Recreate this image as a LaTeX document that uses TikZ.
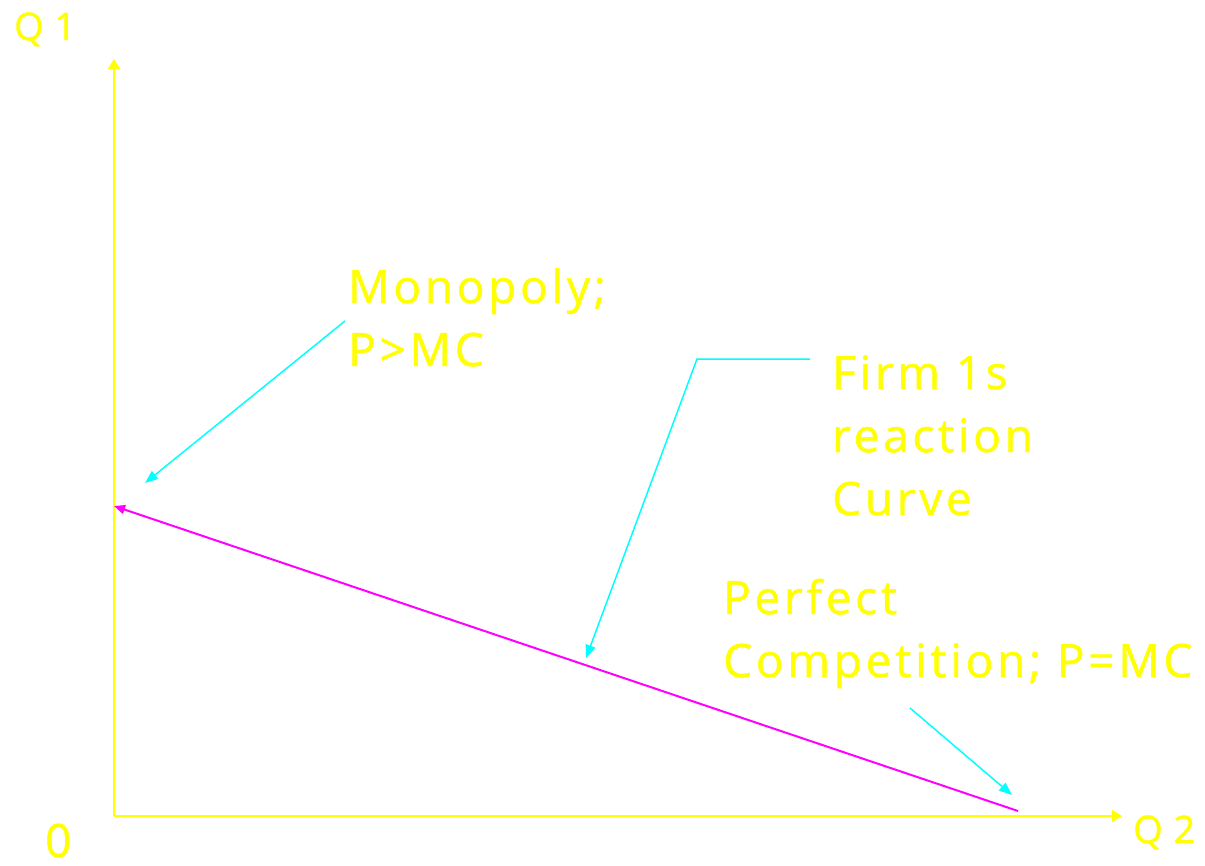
\documentclass[tikz,border=0pt]{standalone}
\usepackage{fontspec}
\usetikzlibrary{arrows.meta}
\newfontfamily\labelfont{Open Sans}[LetterSpace=8, FakeBold=1]
\newfontfamily\axisfont{Open Sans}[LetterSpace=28, FakeBold=1]
\definecolor{labelyellow}{RGB}{255,255,0}
\definecolor{pointcyan}{RGB}{0,255,255}
\definecolor{curvemagenta}{RGB}{255,0,255}

\begin{document}
\begin{tikzpicture}[x=1pt, y=-1pt,
  axis/.style={labelyellow, line width=2pt, -{Triangle[length=10pt, width=12pt]}},
  curve/.style={curvemagenta, line width=2pt, {Triangle[length=11pt, width=9pt]}-},
  pointer/.style={pointcyan, line width=1.5pt, -{Triangle[length=13pt, width=10pt]}},
  lbl/.style={text=labelyellow, font=\labelfont\fontsize{46}{63}\selectfont, inner sep=0pt, anchor=base west, align=left},
  zerolbl/.style={text=labelyellow, font=\labelfont\fontsize{46}{63}\selectfont, inner sep=0pt, anchor=base west},
  axlbl/.style={text=labelyellow, font=\axisfont\fontsize{38}{46}\selectfont, inner sep=0pt, anchor=base west}]
\useasboundingbox[fill=white] (0,0) rectangle (1205,865);

% axes
\coordinate (origin) at (114,816);
\coordinate (q1end) at (114,59);
\coordinate (q2end) at (1122,816);
\draw[axis] (origin) -- (q1end);
\draw[axis] (origin) -- (q2end);
\node[axlbl] (q1) at (14,40) {Q1};
\node[axlbl] (q2) at (1133,843) {Q2};
\node[zerolbl] (zero) at (45,857) {0};

% reaction curve
\coordinate (monopoly) at (114,506);
\coordinate (perfect) at (1018,811);
\draw[curve] (monopoly) -- (perfect);

% labels (base = last line)
\node[lbl] (mono) at (348,366) {Monopoly;\\P>MC};
\node[lbl] (firm) at (832,515) {Firm 1s\\reaction\\Curve};
\node[lbl] (comp) at (723,677) {Perfect\\Competition; P=MC};

% pointers
\coordinate (monostart) at (345,321);
\coordinate (monotip) at (145,483);
\draw[pointer] (monostart) -- (monotip);
\coordinate (firmstart) at (810,359);
\coordinate (firmbend) at (697,359);
\coordinate (firmtip) at (586,658);
\draw[pointer] (firmstart) -- (firmbend) -- (firmtip);
\coordinate (compstart) at (910,708);
\coordinate (comptip) at (1012,795);
\draw[pointer] (compstart) -- (comptip);
\end{tikzpicture}
\end{document}
